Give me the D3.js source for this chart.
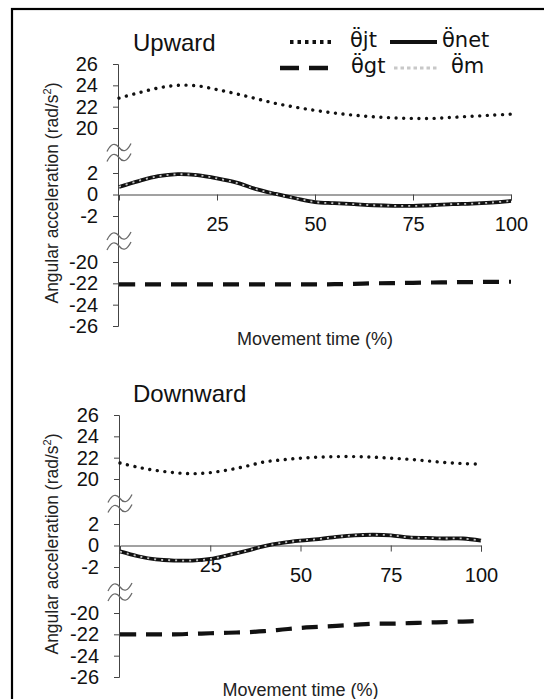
<!DOCTYPE html>
<html><head><meta charset="utf-8">
<script src="https://cdn.jsdelivr.net/npm/d3@7"></script>
<style>body{margin:0;background:#fff}svg{display:block}</style>
</head><body><svg id="c" width="544" height="699"></svg>
<script>
// ---- data ----
const pct = [0,5,10,15,20,25,30,35,40,45,50,55,60,65,70,75,80,85,90,95,100];
const upJt  = [22.8,23.3,23.75,24.0,23.95,23.6,23.2,22.75,22.3,21.95,21.65,21.4,21.2,21.05,20.95,20.9,20.9,21.0,21.1,21.2,21.3];
const upNet = [0.7,1.25,1.7,1.9,1.8,1.5,1.1,0.5,0.05,-0.35,-0.7,-0.8,-0.9,-1.0,-1.05,-1.05,-1.0,-0.9,-0.85,-0.75,-0.6];
const upM   = [0.72,1.27,1.7,1.88,1.8,1.5,1.08,0.5,0.05,-0.35,-0.7,-0.82,-0.9,-1.0,-1.05,-1.06,-1.0,-0.9,-0.85,-0.75,-0.6];
const upGt  = [-22.1,-22.1,-22.1,-22.1,-22.1,-22.1,-22.1,-22.1,-22.1,-22.1,-22.1,-22.08,-22.05,-22.0,-21.98,-21.95,-21.92,-21.9,-21.88,-21.86,-21.85];
const downJt  = [21.5,21.1,20.8,20.6,20.5,20.6,20.85,21.2,21.6,21.8,21.95,22.05,22.1,22.1,22.05,21.95,21.85,21.7,21.55,21.45,21.4];
const downNet = [-0.55,-1.0,-1.3,-1.4,-1.4,-1.25,-0.9,-0.5,-0.05,0.25,0.45,0.6,0.8,0.95,1.0,0.95,0.75,0.7,0.65,0.65,0.45];
const downM   = [-0.57,-1.0,-1.3,-1.38,-1.4,-1.25,-0.9,-0.5,-0.05,0.25,0.46,0.6,0.8,0.95,1.0,0.95,0.76,0.7,0.65,0.65,0.45];
const downGt  = [-22.0,-22.0,-22.0,-22.0,-21.95,-21.9,-21.85,-21.8,-21.7,-21.55,-21.4,-21.3,-21.2,-21.1,-21.0,-21.0,-20.95,-20.9,-20.85,-20.8,-20.75];
const yTicks = [26,24,22,20,2,0,-2,-20,-22,-24,-26];
const yBreaks = [[-20,-2],[2,20]];
const xTicks = [25,50,75,100];
const titles = ["Upward","Downward"];
const legendNames = ["jt","net","gt","m"];
const xTitle = "Movement time (%)";

// ---- drawing ----
const svg = d3.select("#c");
svg.append("rect").attr("x",12).attr("y",9).attr("width",545).attr("height",710)
  .attr("fill","none").attr("stroke","#000").attr("stroke-width",2.2);

const FONT = "'Liberation Sans', Arial, sans-serif";
const styles = {
  jt:  {stroke:"#111", w:3.4, dash:"0.01,7.6", cap:"round"},
  net: {stroke:"#111", w:3.8, dash:null, cap:"butt"},
  gt:  {stroke:"#111", w:4.2, dash:"16,10", cap:"butt"},
  m:   {stroke:"#c4c4c4", w:1.8, dash:"2,5", cap:"butt"}
};

const panels = [
  {top:0, xr:[119,511], series:{jt:upJt, net:upNet, m:upM, gt:upGt}, lbl25:0},
  {top:351, xr:[120,481], series:{jt:downJt, net:downNet, m:downM, gt:downGt}, lbl25:-10}
];

panels.forEach((p,i)=>{
  const g = svg.append("g").attr("transform",`translate(0,${p.top})`);
  const x = d3.scaleLinear().domain([0,100]).range(p.xr);
  const y = d3.scaleLinear().domain([-26,-20,-2,2,20,26]).range([326,262,216,173,128,64]);

  // y axis
  const ya = g.append("g").attr("transform",`translate(${p.xr[0]-1},0)`)
    .call(d3.axisLeft(y).tickValues(yTicks).tickSize(5).tickSizeOuter(5).tickPadding(15).tickFormat(d=>d));
  ya.selectAll("path,line").attr("stroke","#444").attr("stroke-width",1);
  ya.selectAll("text").attr("font-family",FONT).attr("font-size",20).attr("fill","#111");

  // breaks
  yBreaks.forEach(b=>{
    const yc = (y(b[0])+y(b[1]))/2 + 2;
    [-5,5].forEach(off=>{
      g.append("path")
        .attr("d",`M${p.xr[0]-12},${yc+off+4} q6,-12 12,-4 t12,-4`)
        .attr("fill","none").attr("stroke","#6a6a6a").attr("stroke-width",1.3);
    });
  });

  // x axis at y = 0
  const xa = g.append("g").attr("transform",`translate(0,${y(0)})`)
    .call(d3.axisBottom(x).tickValues(xTicks).tickSize(6).tickSizeOuter(6).tickPadding(16));
  xa.selectAll("path,line").attr("stroke","#444").attr("stroke-width",1);
  xa.selectAll("text").attr("font-family",FONT).attr("font-size",20).attr("fill","#111")
    .attr("transform",d=>d===25?`translate(0,${p.lbl25})`:null);

  // lines
  const line = d3.line().x((d,j)=>x(pct[j])).y(d=>y(d)).curve(d3.curveCatmullRom);
  ["gt","jt","net","m"].forEach(k=>{
    const s = styles[k];
    g.append("path").datum(p.series[k]).attr("d",line)
      .attr("fill","none").attr("stroke",s.stroke).attr("stroke-width",s.w)
      .attr("stroke-dasharray",s.dash).attr("stroke-linecap",s.cap);
  });

  // titles
  g.append("text").attr("x",133).attr("y",51).text(titles[i])
    .attr("font-family",FONT).attr("font-size",24).attr("fill","#111");
  g.append("text").attr("x",(p.xr[0]+p.xr[1])/2).attr("y",345).attr("text-anchor","middle")
    .text(xTitle).attr("font-family",FONT).attr("font-size",18).attr("fill","#222");
  const yl = g.append("text").attr("transform",`translate(58,193) rotate(-90)`).attr("text-anchor","middle")
    .attr("font-family",FONT).attr("font-size",17.5).attr("fill","#222");
  yl.append("tspan").text("Angular acceleration (rad/s");
  yl.append("tspan").text("2").attr("font-size",11).attr("dy",-7);
  yl.append("tspan").text(")").attr("dy",7);
});

// legend
const LFS = 21;
const legPos = {jt:[290,332,350,42,47], net:[390,437,442,42,47], gt:[280,333,351,68,73], m:[394,438,451,68,73]};
legendNames.forEach(k=>{
  const s = styles[k], lp = legPos[k];
  const dash = k==="jt" ? "3.5,4" : k==="gt" ? "19,10" : k==="m" ? "3.5,3" : null;
  svg.append("line").attr("x1",lp[0]).attr("x2",lp[1]).attr("y1",lp[3]).attr("y2",lp[3])
    .attr("stroke",k==="m"?"#c8c8c8":s.stroke).attr("stroke-width",k==="m"?3:s.w+0.4)
    .attr("stroke-dasharray",dash);
  svg.append("text").attr("x",lp[2]).attr("y",lp[4]).text("\u03B8\u0308"+k)
    .attr("font-family","'DejaVu Sans', sans-serif").attr("font-size",LFS).attr("fill","#111");
});
</script></body></html>
